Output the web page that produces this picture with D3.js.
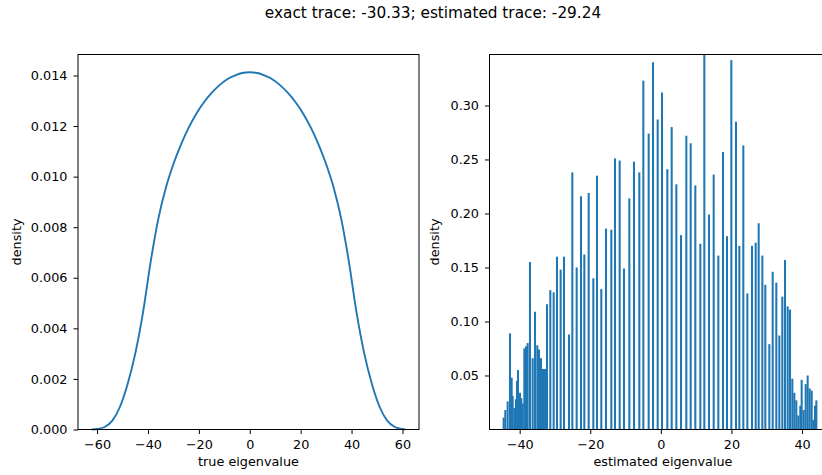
<!DOCTYPE html>
<html>
<head>
<meta charset="utf-8">
<script src="https://cdnjs.cloudflare.com/ajax/libs/d3/7.8.5/d3.min.js"></script>
<style>
  body { margin: 0; background: #fff; }
  svg { display: block; font-family: 'DejaVu Sans', sans-serif; }
</style>
</head>
<body>
<script>
var title = 'exact trace: -30.33; estimated trace: -29.24';

// left panel: kde of the true eigenvalues
var trueX = [-62, -60, -57, -54, -51, -48, -45, -42, -39, -36, -33, -30, -27, -24, -21,
  -18, -15, -12, -9, -6, -3, 0, 3, 6, 9, 12, 15, 18, 21, 24, 27, 30, 33, 36, 39, 42, 45,
  48, 51, 54, 57, 60, 61];
var trueDensity = [0, 0.00002, 0.0001, 0.00035, 0.0009, 0.0018, 0.003, 0.0046, 0.0066,
  0.0083, 0.00955, 0.0105, 0.01128, 0.01194, 0.01249, 0.01294, 0.01331, 0.01361, 0.01384,
  0.01399, 0.0141, 0.01413, 0.0141, 0.01399, 0.01384, 0.01361, 0.01331, 0.01294, 0.01249,
  0.01194, 0.01128, 0.0105, 0.00955, 0.0083, 0.0066, 0.0046, 0.003, 0.0018, 0.0009,
  0.00035, 0.0001, 0.00002, 0];
var trueXTicks = [-60, -40, -20, 0, 20, 40, 60];
var trueYTicks = [0, 0.002, 0.004, 0.006, 0.008, 0.010, 0.012, 0.014];

// right panel: histogram of the estimated eigenvalues
var estCenters = [-44.54, -44.07, -43.41, -42.75, -42.27, -41.99, -41.52, -41.05, -40.76,
  -40.48, -39.91, -39.53, -39.16, -38.68, -38.21, -37.74, -37.08, -36.32, -35.66, -35.00,
  -34.53, -33.96, -33.39, -32.83, -32.26, -31.32, -30.37, -29.43, -28.39, -27.44, -26.03,
  -25.08, -23.85, -22.63, -21.68, -20.45, -19.13, -18.09, -16.87, -15.54, -14.03, -12.99,
  -11.67, -10.44, -8.93, -7.61, -6.10, -4.96, -3.45, -2.22, -0.90, 0.33, 1.84, 3.07, 4.39,
  5.71, 7.22, 8.45, 9.77, 11.19, 12.32, 13.64, 14.97, 16.29, 17.61, 18.74, 19.97, 21.29,
  22.24, 23.37, 24.51, 25.83, 26.87, 27.72, 28.76, 29.61, 30.74, 31.69, 32.72, 33.57,
  34.42, 35.18, 35.94, 36.60, 37.26, 37.82, 38.39, 38.96, 39.52, 39.90, 40.47, 41.04,
  41.60, 42.17, 42.74, 43.21, 43.68, 44.06];
var estDensity = [0.011, 0.018, 0.026, 0.089, 0.048, 0.031, 0.020, 0.028, 0.045, 0.055,
  0.034, 0.029, 0.024, 0.075, 0.077, 0.080, 0.155, 0.066, 0.109, 0.078, 0.074, 0.066,
  0.056, 0.056, 0.116, 0.129, 0.127, 0.160, 0.148, 0.160, 0.088, 0.238, 0.150, 0.216,
  0.162, 0.219, 0.140, 0.235, 0.130, 0.186, 0.185, 0.251, 0.249, 0.149, 0.214, 0.248,
  0.238, 0.323, 0.274, 0.340, 0.287, 0.312, 0.241, 0.280, 0.227, 0.180, 0.272, 0.265,
  0.226, 0.172, 0.360, 0.199, 0.236, 0.161, 0.257, 0.179, 0.342, 0.285, 0.170, 0.263,
  0.126, 0.170, 0.173, 0.191, 0.161, 0.134, 0.079, 0.146, 0.136, 0.087, 0.123, 0.157,
  0.114, 0.111, 0.047, 0.034, 0.027, 0.013, 0.022, 0.046, 0.018, 0.042, 0.050, 0.038,
  0.036, 0.009, 0.022, 0.027];
var estBinWidth = 0.58;
var estXTicks = [-40, -20, 0, 20, 40];
var estYTicks = [0.05, 0.10, 0.15, 0.20, 0.25, 0.30];

var blue = '#1f77b4';
var fontSize = 12.8;

var svg = d3.select('body')
  .append('svg')
    .attr('width', 822)
    .attr('height', 475);

svg.append('text')
  .attr('x', 433)
  .attr('y', 18.3)
  .attr('text-anchor', 'middle')
  .style('font-size', '15.3px')
  .text(title);

function myDrawAxes(box, x, y, xTicks, yTicks, yFormat, xLabel) {
  var g = svg.append('g');

  var xAxis = g.append('g')
    .attr('transform', 'translate(0,' + box.bottom + ')')
    .call(d3.axisBottom(x).tickValues(xTicks).tickSize(4.5).tickPadding(6).tickFormat(d3.format('d')));
  var yAxis = g.append('g')
    .attr('transform', 'translate(' + box.left + ',0)')
    .call(d3.axisLeft(y).tickValues(yTicks).tickSize(4.5).tickPadding(6).tickFormat(d3.format(yFormat)));

  [xAxis, yAxis].forEach(function(a) {
    a.select('.domain').remove();
    a.attr('font-family', null).attr('font-size', null);
    a.selectAll('.tick line').attr('stroke', '#000').attr('stroke-width', 1);
    a.selectAll('.tick text').attr('fill', '#000').style('font-size', fontSize + 'px');
  });

  // frame drawn after the marks so it sits on top
  g.append('rect')
    .attr('x', box.left)
    .attr('y', box.top)
    .attr('width', box.right - box.left)
    .attr('height', box.bottom - box.top)
    .attr('fill', 'none')
    .attr('stroke', '#000')
    .attr('stroke-width', 1);

  g.append('text')
    .attr('x', (box.left + box.right) / 2)
    .attr('y', 465.5)
    .attr('text-anchor', 'middle')
    .style('font-size', fontSize + 'px')
    .text(xLabel);

  g.append('text')
    .attr('transform', 'translate(' + box.yLabelX + ',' + (box.top + box.bottom) / 2 + ') rotate(-90)')
    .attr('text-anchor', 'middle')
    .style('font-size', fontSize + 'px')
    .text('density');
}

// left panel
var leftBox = { left: 78, right: 419, top: 54.5, bottom: 429.5, yLabelX: 21 };
var x1 = d3.scaleLinear().domain([-67.5, 66.5]).range([leftBox.left, leftBox.right]);
var y1 = d3.scaleLinear().domain([0, 0.01483]).range([leftBox.bottom, leftBox.top]);

var line = d3.line()
  .x(function(d, i) { return x1(trueX[i]); })
  .y(function(d) { return y1(d); })
  .curve(d3.curveMonotoneX);

svg.append('path')
  .datum(trueDensity)
  .attr('d', line)
  .attr('fill', 'none')
  .attr('stroke', blue)
  .attr('stroke-width', 1.9);

myDrawAxes(leftBox, x1, y1, trueXTicks, trueYTicks, '.3f', 'true eigenvalue');

// right panel
var rightBox = { left: 489.5, right: 836.5, top: 54.5, bottom: 429.5, yLabelX: 439 };
var x2 = d3.scaleLinear().domain([-48.55, 49.77]).range([rightBox.left, rightBox.right]);
var y2 = d3.scaleLinear().domain([0, 0.3472]).range([rightBox.bottom, rightBox.top]);

svg.append('clipPath')
    .attr('id', 'clip-right')
  .append('rect')
    .attr('x', rightBox.left)
    .attr('y', rightBox.top)
    .attr('width', rightBox.right - rightBox.left)
    .attr('height', rightBox.bottom - rightBox.top);

svg.append('g')
    .attr('clip-path', 'url(#clip-right)')
  .selectAll('rect')
  .data(estDensity)
  .enter()
    .append('rect')
      .attr('x', function(d, i) { return x2(estCenters[i] - estBinWidth / 2); })
      .attr('width', function(d, i) { return x2(estCenters[i] + estBinWidth / 2) - x2(estCenters[i] - estBinWidth / 2); })
      .attr('y', function(d) { return y2(d); })
      .attr('height', function(d) { return y2(0) - y2(d); })
      .attr('fill', blue);

myDrawAxes(rightBox, x2, y2, estXTicks, estYTicks, '.2f', 'estimated eigenvalue');
</script>
</body>
</html>
